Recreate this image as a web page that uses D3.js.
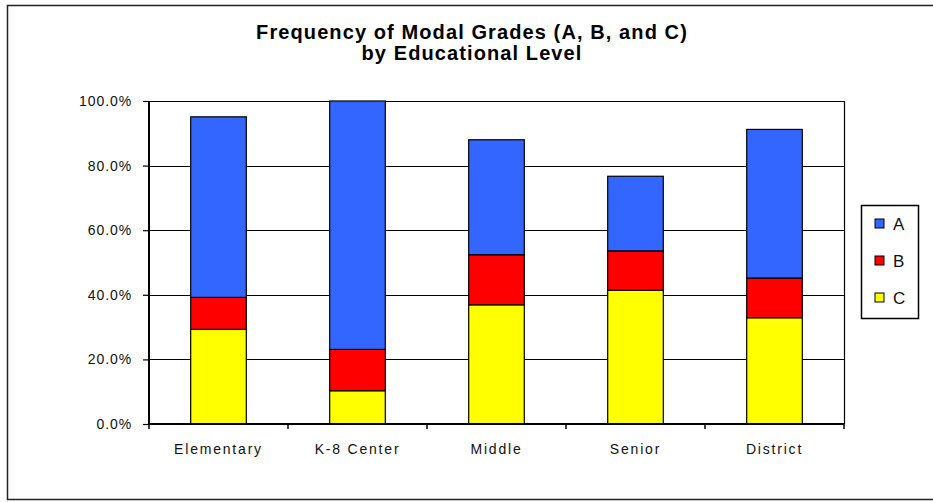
<!DOCTYPE html>
<html>
<head>
<meta charset="utf-8">
<style>
  html, body { margin: 0; padding: 0; background: #fff; overflow: hidden; }
  svg { display: block; font-family: Arial, "Liberation Sans", sans-serif; }
</style>
</head>
<body>
<svg width="933" height="502"></svg>
<script src="https://d3js.org/d3.v7.min.js"></script>
<script>

// data (percent of students)
var levels = ["Elementary", "K-8 Center", "Middle", "Senior", "District"];
var gradeA = [55.9, 76.9, 35.6, 23.1, 46.0];
var gradeB = [9.9, 12.8, 15.5, 12.2, 12.3];
var gradeC = [29.3, 10.3, 36.9, 41.4, 32.9];
var grades = ["C", "B", "A"];
var yTicks = [0, 20, 40, 60, 80, 100];
var titleLines = ["Frequency of Modal Grades (A, B, and C)", "by Educational Level"];

var colors = {A: "#3366ff", B: "#ff0000", C: "#ffff00"};

var rows = levels.map(function(d, i) {
  return {level: d, A: gradeA[i], B: gradeB[i], C: gradeC[i]};
});

var svg = d3.select("svg"),
    margin = {top: 101, left: 149},
    width = 844 - 149,
    height = 424 - 101;

// chart area border (runs off the right edge)
svg.append("path")
    .attr("d", "M940,5.5H7.5V499.5H940")
    .attr("fill", "none")
    .attr("stroke", "#222")
    .attr("stroke-width", 1.5);

svg.selectAll(".title")
  .data(titleLines)
  .enter().append("text")
    .attr("x", 472)
    .attr("y", function(d, i) { return 39 + i * 21; })
    .attr("text-anchor", "middle")
    .attr("font-size", "20px")
    .attr("font-weight", "bold")
    .attr("letter-spacing", "1.1px")
    .text(function(d) { return d; });

var g = svg.append("g").attr("transform", "translate(" + margin.left + "," + margin.top + ")");

var x = d3.scaleBand()
    .domain(levels)
    .range([0, width])
    .paddingInner(0.6)
    .paddingOuter(0.3);

var xCat = d3.scaleBand().domain(levels).range([0, width]);

var y = d3.scaleLinear()
    .domain([0, 100])
    .range([height, 0]);

// gridlines
g.append("g")
  .selectAll("line")
  .data(yTicks.slice(1))
  .enter().append("line")
    .attr("x1", 0).attr("x2", width)
    .attr("y1", function(d) { return Math.round(y(d)) + 0.5; })
    .attr("y2", function(d) { return Math.round(y(d)) + 0.5; })
    .attr("stroke", "#000")
    .attr("stroke-width", 1.2);

// right border of plot
g.append("line")
    .attr("x1", width + 0.5).attr("x2", width + 0.5)
    .attr("y1", 0).attr("y2", height)
    .attr("stroke", "#000").attr("stroke-width", 1.2);

var stack = d3.stack().keys(grades);
var series = stack(rows);

g.selectAll(".series")
  .data(series)
  .enter().append("g")
    .attr("fill", function(d) { return colors[d.key]; })
  .selectAll("rect")
  .data(function(d) { return d; })
  .enter().append("rect")
    .attr("x", function(d) { return x(d.data.level); })
    .attr("width", x.bandwidth())
    .attr("y", function(d) { return y(d[1]); })
    .attr("height", function(d) { return y(d[0]) - y(d[1]); })
    .attr("stroke", "#000")
    .attr("stroke-width", 1.2);

// y axis
var yAxis = g.append("g")
    .call(d3.axisLeft(y)
      .tickValues(yTicks)
      .tickSize(6)
      .tickPadding(11)
      .tickFormat(function(d) { return d3.format(".1f")(d) + "%"; }));
yAxis.select(".domain").attr("stroke", "#000").attr("stroke-width", 2)
    .attr("d", "M0,0V" + height);
yAxis.selectAll(".tick line").attr("stroke", "#000").attr("stroke-width", 1.2);
yAxis.selectAll(".tick text")
    .attr("font-family", "Arial, 'Liberation Sans', sans-serif")
    .attr("font-size", "14px")
    .attr("letter-spacing", "0.9px")
    .attr("fill", "#111");

// x axis
var xAxis = g.append("g")
    .attr("transform", "translate(0," + height + ")")
    .call(d3.axisBottom(xCat).tickSize(0).tickPadding(20));
xAxis.select(".domain").attr("stroke", "#000").attr("stroke-width", 2)
    .attr("d", "M0,0H" + width);
xAxis.selectAll(".tick text")
    .attr("font-family", "Arial, 'Liberation Sans', sans-serif")
    .attr("font-size", "14px")
    .attr("letter-spacing", "1.8px")
    .attr("fill", "#111");

// category separator ticks
xAxis.selectAll(".sep")
  .data(levels.concat(["end"]))
  .enter().append("line")
    .attr("x1", function(d, i) { return i * xCat.step(); })
    .attr("x2", function(d, i) { return i * xCat.step(); })
    .attr("y1", 0).attr("y2", 5)
    .attr("stroke", "#000").attr("stroke-width", 1.5);

// legend
var legend = svg.append("g").attr("transform", "translate(861,205)");
legend.append("rect")
    .attr("x", 0.5).attr("y", 0.5)
    .attr("width", 57).attr("height", 113)
    .attr("fill", "#fff")
    .attr("stroke", "#000").attr("stroke-width", 1.5);

var legendKeys = ["A", "B", "C"];
var items = legend.selectAll(".item")
  .data(legendKeys)
  .enter().append("g")
    .attr("transform", function(d, i) { return "translate(14," + (19 + i * 37) + ")"; });
items.append("rect")
    .attr("x", 0).attr("y", -5)
    .attr("width", 9).attr("height", 9)
    .attr("fill", function(d) { return colors[d]; })
    .attr("stroke", "#000").attr("stroke-width", 1);
items.append("text")
    .attr("x", 18).attr("y", 6)
    .attr("font-size", "17px")
    .attr("fill", "#111")
    .text(function(d) { return d; });

</script>
</body>
</html>
